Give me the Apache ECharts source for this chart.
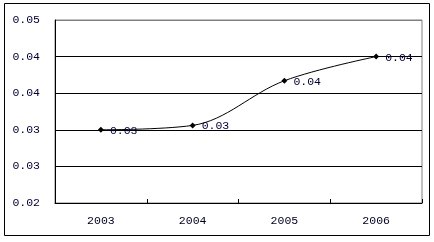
<!DOCTYPE html>
<html>
<head>
<meta charset="utf-8">
<script src="https://cdn.jsdelivr.net/npm/echarts@6/dist/echarts.min.js"></script>
<style>
html,body{margin:0;padding:0;background:#fff;}
#c{width:434px;height:242px;}
</style>
</head>
<body>
<div id="c"></div>
<script>
var categories = ['2003', '2004', '2005', '2006'];
var values = [0.0300, 0.0306, 0.0367, 0.0400];
var pointLabels = ['0.03', '0.03', '0.04', '0.04'];
var yTickLabels = ['0.02', '0.03', '0.03', '0.04', '0.04', '0.05'];
var yMin = 0.02, yMax = 0.045, yStep = 0.005;

var chart = echarts.init(document.getElementById('c'), null, {renderer: 'canvas'});
var mono = '"Liberation Mono", "DejaVu Sans Mono", monospace';
chart.setOption({
  animation: false,
  backgroundColor: '#fff',
  grid: {left: 55, right: 12, top: 20, bottom: 39, show: true, borderColor: '#808080', borderWidth: 1},
  xAxis: {
    type: 'category',
    data: categories,
    boundaryGap: true,
    axisLine: {lineStyle: {color: '#000', width: 1}},
    axisTick: {show: true, inside: true, length: 4, lineStyle: {color: '#000'}},
    axisLabel: {color: '#000020', fontFamily: mono, fontSize: 11.5, margin: 12}
  },
  yAxis: {
    type: 'value',
    min: yMin, max: yMax, interval: yStep,
    axisLine: {show: true, lineStyle: {color: '#000', width: 1}},
    axisTick: {show: false},
    splitLine: {show: true, lineStyle: {color: ['#000', '#000', '#000', '#000', '#000', '#808080'], width: 1}},
    axisLabel: {
      color: '#000033', fontFamily: mono, fontSize: 11.5, margin: 15,
      formatter: function (v) { return yTickLabels[Math.round((v - yMin) / yStep)]; }
    }
  },
  series: [{
    type: 'line',
    data: values,
    smooth: 0.35,
    symbol: 'diamond',
    symbolSize: 6,
    itemStyle: {color: '#000'},
    lineStyle: {color: '#000', width: 1},
    label: {
      show: true, position: 'right', distance: 6,
      color: '#000033', fontFamily: mono, fontSize: 11.5,
      offset: [0, 1],
      formatter: function (p) { return pointLabels[p.dataIndex]; }
    }
  }],
  graphic: [{
    type: 'rect',
    shape: {x: 4.5, y: 3.5, width: 425, height: 232},
    style: {fill: null, stroke: '#000', lineWidth: 1},
    silent: true
  }]
});
</script>
</body>
</html>
